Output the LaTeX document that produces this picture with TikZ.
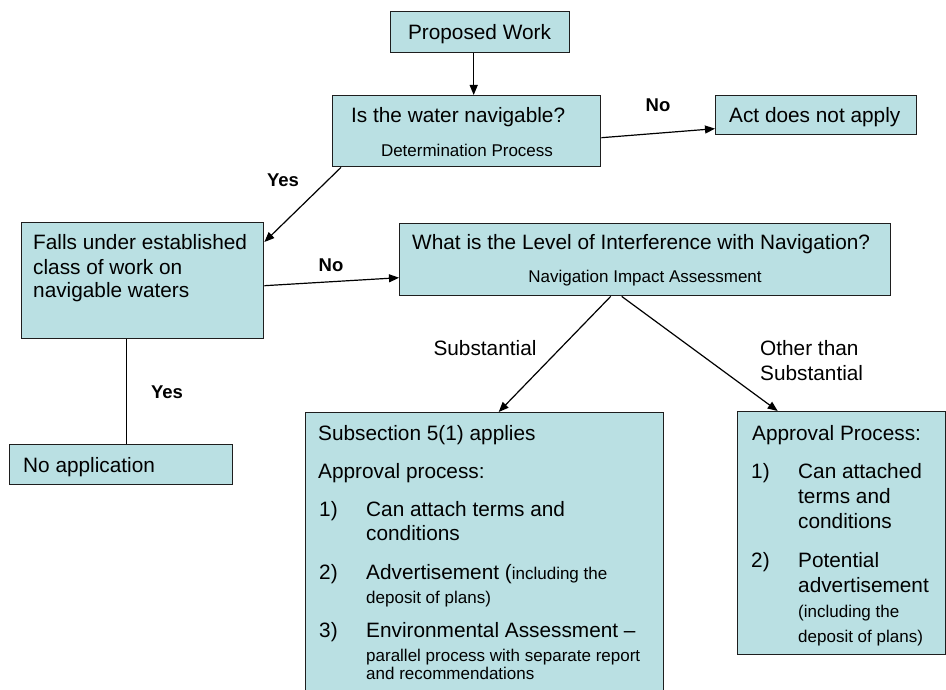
\documentclass[tikz,border=0pt]{standalone}
\usepackage{fontspec}
\setmainfont{Liberation Sans}
\usetikzlibrary{arrows.meta}
\definecolor{boxfill}{RGB}{186,224,227}
\definecolor{edgecol}{RGB}{30,30,30}
\newcommand{\smallfnt}{\fontsize{17}{20}\selectfont}
\begin{document}
\begin{tikzpicture}[x=1pt,y=-1pt,
  box/.style={draw=edgecol, fill=boxfill, line width=1.4pt, inner sep=0pt, anchor=north west},
  txt/.style={inner sep=0pt, anchor=base west, font=\fontsize{20.8}{25}\selectfont},
  ctxt/.style={txt, anchor=base},
  sm/.style={inner sep=0pt, anchor=base west, font=\smallfnt},
  lbl/.style={inner sep=0pt, anchor=base, font=\fontsize{18.5}{22}\selectfont\bfseries},
  conn/.style={draw=black, line width=1.2pt},
  arr/.style={conn, -{Triangle[length=10pt,width=8pt]}}]
\useasboundingbox (0,0) rectangle (946,690);
\clip (0,0) rectangle (946,690);

% boxes
\node[box, minimum width=179pt, minimum height=41pt] (pw) at (390,11) {};
\node[box, minimum width=268pt, minimum height=71pt] (q1) at (332,95) {};
\node[box, minimum width=201pt, minimum height=39pt] (act) at (715,95) {};
\node[box, minimum width=242pt, minimum height=116pt] (falls) at (21,222) {};
\node[box, minimum width=491pt, minimum height=72pt] (lvl) at (399,223) {};
\node[box, minimum width=223pt, minimum height=40pt] (noapp) at (9,444) {};
\node[box, minimum width=358pt, minimum height=300pt] (sub) at (305,412) {};
\node[box, minimum width=208pt, minimum height=243pt] (appr) at (737,411) {};

% texts
\node[ctxt] (tpw) at (479.5,40) {Proposed Work};
\node[txt] (tq1a) at (351,123) {Is the water navigable?};
\node[sm, anchor=base] (tq1b) at (467,157) {Determination Process};
\node[txt] (tact) at (729,123) {Act does not apply};
\node[txt] (tf1) at (33,250) {Falls under established};
\node[txt] (tf2) at (33,274) {class of work on};
\node[txt] (tf3) at (33,298) {navigable waters};
\node[txt] (tl1) at (412,250) {What is the Level of Interference with Navigation?};
\node[sm, anchor=base] (tl2) at (645,282) {Navigation Impact Assessment};
\node[txt] (tna) at (23,472) {No application};

\node[txt] (ts1) at (318,440) {Subsection 5(1) applies};
\node[txt] (ts2) at (318,478) {Approval process:};
\node[txt] (ts3n) at (319,516) {1)};
\node[txt] (ts3) at (366,516) {Can attach terms and};
\node[txt] (ts4) at (366,540) {conditions};
\node[txt] (ts5n) at (319,579) {2)};
\node[txt] (ts5) at (366,579) {Advertisement (\smallfnt including the};
\node[sm] (ts6) at (366,603) {deposit of plans)};
\node[txt] (ts7n) at (319,637) {3)};
\node[txt] (ts7) at (366,637) {Environmental Assessment –};
\node[sm] (ts8) at (366,661) {parallel process with separate report};
\node[sm] (ts9) at (366,679) {and recommendations};

\node[txt] (ta1) at (752,440) {Approval Process:};
\node[txt] (ta2n) at (751,478) {1)};
\node[txt] (ta2) at (798,478) {Can attached};
\node[txt] (ta3) at (798,503) {terms and};
\node[txt] (ta4) at (798,528) {conditions};
\node[txt] (ta5n) at (751,567) {2)};
\node[txt] (ta5) at (798,567) {Potential};
\node[txt] (ta6) at (798,592) {advertisement};
\node[sm] (ta7) at (798,617) {(including the};
\node[sm] (ta8) at (798,642) {deposit of plans)};

% edge labels
\node[lbl] (lno1) at (658,112) {No};
\node[lbl] (lyes1) at (283,186) {Yes};
\node[lbl] (lno2) at (331,272) {No};
\node[lbl] (lyes2) at (167,398) {Yes};
\node[ctxt] (lsub) at (485,355) {Substantial};
\node[txt] (loth1) at (760,355) {Other than};
\node[txt] (loth2) at (760,380) {Substantial};

% connectors
\draw[arr] ([xshift=-6.5pt]pw.south) -- ([xshift=7pt]q1.north);
\draw[arr] ([yshift=-6.5pt]q1.east) -- ([yshift=-13.5pt]act.west);
\draw[arr] ([xshift=9pt]q1.south west) -- ([yshift=-20pt]falls.north east);
\draw[arr] ([yshift=-5pt]falls.east) -- ([yshift=-18pt]lvl.west);
\draw[arr] ([xshift=-34.5pt]lvl.south) -- ([xshift=14pt]sub.north);
\draw[arr] ([xshift=-23.5pt]lvl.south) -- ([xshift=-64pt]appr.north);
\draw[conn] ([xshift=-16pt]falls.south) -- ([xshift=5.5pt]noapp.north);
\end{tikzpicture}
\end{document}
